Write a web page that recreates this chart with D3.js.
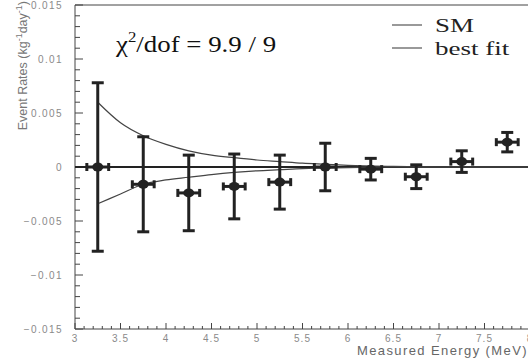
<!DOCTYPE html>
<html>
<head>
<meta charset="utf-8">
<script src="https://cdn.jsdelivr.net/npm/d3@7"></script>
<style>
  body { margin: 0; background: #fff; }
  svg { display: block; }
</style>
</head>
<body>
<div id="chart"></div>
<script>
// Measured points
const energy = [3.25, 3.75, 4.25, 4.75, 5.25, 5.75, 6.25, 6.75, 7.25, 7.75]
const rate = [0.0000, -0.0016, -0.0024, -0.0018, -0.0014, 0.0000, -0.0002, -0.0009, 0.0005, 0.0023]
const rateErr = [0.0078, 0.0044, 0.0035, 0.0030, 0.0025, 0.0022, 0.0010, 0.0011, 0.0010, 0.0009]
const energyErr = 0.12

// Curves
const curveE = [3.25, 3.5, 3.75, 4.0, 4.25, 4.5, 4.75, 5.0, 5.25, 5.5, 5.75, 6.0, 6.5, 7.0, 8.0]
const smCurve = [0.0060, 0.0041, 0.0029, 0.0021, 0.0015, 0.0011, 0.00086, 0.00065, 0.0005, 0.00035, 0.00025, 0.00015, 0.00005, 0, 0]
const fitCurve = [-0.0034, -0.0025, -0.0016, -0.0012, -0.00095, -0.0007, -0.0005, -0.00035, -0.00025, -0.00015, -0.0001, -0.00005, 0, 0, 0]

const xTicks = [3, 3.5, 4, 4.5, 5, 5.5, 6, 6.5, 7, 7.5, 8]
const yTicks = [-0.015, -0.01, -0.005, 0, 0.005, 0.01, 0.015]
const legendNames = ['SM', 'best fit']

const width = 528, height = 360
const svg = d3.select('#chart').append('svg')
  .attr('width', width).attr('height', height)

const x = d3.scaleLinear().domain([3, 8]).range([75, 530])
const y = d3.scaleLinear().domain([-0.015, 0.015]).range([329, 5])

const ink = '#222'
const axisCol = '#444'
const labelCol = '#8a8a8a'
const sans = "'Liberation Sans', Arial, sans-serif"
const serif = "'Liberation Serif', 'Times New Roman', serif"

// Frame
svg.append('line').attr('x1', x(3)).attr('x2', x(3)).attr('y1', y(0.015)).attr('y2', y(-0.015))
  .attr('stroke', axisCol).attr('stroke-width', 1)
svg.append('line').attr('x1', x(3)).attr('x2', width).attr('y1', y(-0.015)).attr('y2', y(-0.015))
  .attr('stroke', axisCol).attr('stroke-width', 1)
svg.append('line').attr('x1', x(3)).attr('x2', width).attr('y1', y(0.015)).attr('y2', y(0.015))
  .attr('stroke', axisCol).attr('stroke-width', 1)

// Y ticks (inward), minor every 0.001
const yMinor = d3.range(-15, 16).map(i => i * 0.001)
svg.append('g').selectAll('line').data(yMinor).join('line')
  .attr('x1', x(3))
  .attr('x2', d => x(3) + (Math.abs(Math.round(d * 1000)) % 5 === 0 ? 8 : 5))
  .attr('y1', d => y(d)).attr('y2', d => y(d))
  .attr('stroke', axisCol).attr('stroke-width', 1)

// X ticks (inward), minor every 0.1
const xMinor = d3.range(30, 81).map(i => i / 10)
svg.append('g').selectAll('line').data(xMinor).join('line')
  .attr('x1', d => x(d)).attr('x2', d => x(d))
  .attr('y1', y(-0.015))
  .attr('y2', d => y(-0.015) - (Math.round(d * 10) % 5 === 0 ? 6 : 3))
  .attr('stroke', axisCol).attr('stroke-width', 1)

// Tick labels
const fmtY = d => d === 0 ? '0' : d3.format('.3~f')(d).replace('-', '\u2212')
svg.append('g').selectAll('text').data(yTicks).join('text')
  .attr('x', 63).attr('y', d => y(d) + 4)
  .attr('text-anchor', 'end')
  .attr('font-family', sans).attr('letter-spacing', 1.4)
  .attr('font-size', 10).attr('fill', labelCol)
  .text(fmtY)

svg.append('g').selectAll('text').data(xTicks).join('text')
  .attr('x', d => x(d)).attr('y', 342)
  .attr('text-anchor', 'middle')
  .attr('font-family', sans).attr('letter-spacing', 1)
  .attr('font-size', 10).attr('fill', labelCol)
  .text(d => d)

// Axis titles
svg.append('text')
  .attr('x', 528).attr('y', 355)
  .attr('text-anchor', 'end')
  .attr('font-family', sans).attr('letter-spacing', 1.4)
  .attr('font-size', 13).attr('fill', '#666')
  .text('Measured Energy (MeV)')

const yt = svg.append('text')
  .attr('transform', 'translate(27,1) rotate(-90)')
  .attr('text-anchor', 'end')
  .attr('font-family', sans)
  .attr('font-size', 12.5).attr('fill', '#777')
yt.append('tspan').text('Event Rates (kg')
yt.append('tspan').attr('dy', -5).attr('font-size', 9).text('-1')
yt.append('tspan').attr('dy', 5).text('day')
yt.append('tspan').attr('dy', -5).attr('font-size', 9).text('-1')
yt.append('tspan').attr('dy', 5).text(')')

// Zero line
svg.append('line').attr('x1', x(3)).attr('x2', width).attr('y1', y(0)).attr('y2', y(0))
  .attr('stroke', ink).attr('stroke-width', 2)

// Curves
const line = d3.line().x(d => x(d[0])).y(d => y(d[1])).curve(d3.curveMonotoneX)
svg.append('path').datum(d3.zip(curveE, smCurve)).attr('d', line)
  .attr('fill', 'none').attr('stroke', '#444').attr('stroke-width', 1.2)
svg.append('path').datum(d3.zip(curveE, fitCurve)).attr('d', line)
  .attr('fill', 'none').attr('stroke', '#444').attr('stroke-width', 1.2)

// Data points with error bars
const pts = energy.map((e, i) => ({ e, r: rate[i], err: rateErr[i] }))
const g = svg.append('g').attr('stroke', ink).attr('stroke-width', 3)
pts.forEach(p => {
  const cx = x(p.e), cy = y(p.r)
  // vertical
  g.append('line').attr('x1', cx).attr('x2', cx).attr('y1', y(p.r + p.err)).attr('y2', y(p.r - p.err))
  g.append('line').attr('x1', cx - 6).attr('x2', cx + 6).attr('y1', y(p.r + p.err)).attr('y2', y(p.r + p.err))
  g.append('line').attr('x1', cx - 6).attr('x2', cx + 6).attr('y1', y(p.r - p.err)).attr('y2', y(p.r - p.err))
  // horizontal
  const xl = x(p.e - energyErr), xr = x(p.e + energyErr)
  g.append('line').attr('x1', xl).attr('x2', xr).attr('y1', cy).attr('y2', cy)
  g.append('line').attr('x1', xl).attr('x2', xl).attr('y1', cy - 4).attr('y2', cy + 4)
  g.append('line').attr('x1', xr).attr('x2', xr).attr('y1', cy - 4).attr('y2', cy + 4)
  // marker
  svg.append('ellipse').attr('cx', cx).attr('cy', cy).attr('rx', 5.5).attr('ry', 4.5).attr('fill', ink)
})

// Chi2 text
const chi = svg.append('text')
  .attr('transform', 'translate(116,52) scale(1.12,1)')
  .attr('font-family', serif)
  .attr('font-size', 24).attr('fill', '#111')
chi.append('tspan').attr('font-family', serif).text('\u03c7')
chi.append('tspan').attr('font-family', serif).attr('dy', -10).attr('font-size', 15).text('2')
chi.append('tspan').attr('font-family', serif).attr('dy', 10).text('/dof = 9.9 / 9')

// Legend (text drawn horizontally stretched like the original)
legendNames.forEach((name, i) => {
  const ly = 25 + i * 23
  svg.append('line').attr('x1', 392).attr('x2', 422).attr('y1', ly).attr('y2', ly)
    .attr('stroke', '#555').attr('stroke-width', 1.2)
  svg.append('text')
    .attr('transform', `translate(435,${ly + 7}) scale(1.5,1)`)
    .attr('font-family', serif)
    .attr('font-size', 18).attr('fill', '#222')
    .text(name)
})
</script>
</body>
</html>
